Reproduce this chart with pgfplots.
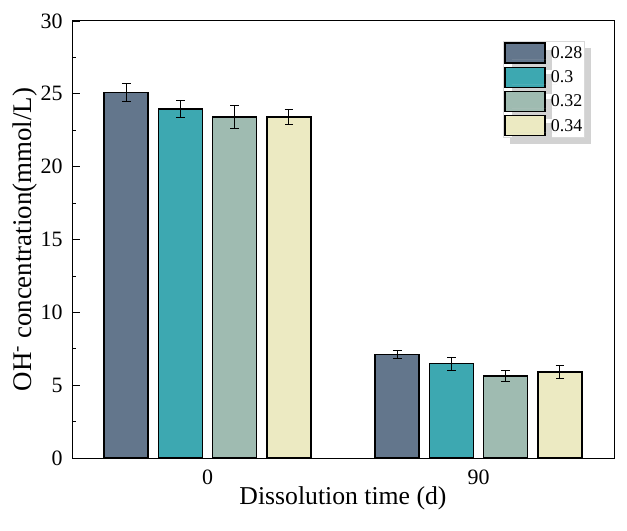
\documentclass[border=0pt]{standalone}
\usepackage{pgfplots}
\pgfplotsset{compat=1.18}
\usepackage{fontspec}
\setmainfont{Liberation Serif}
\usetikzlibrary{shadows}
\definecolor{cA}{HTML}{63768C}
\definecolor{cB}{HTML}{3DA8B1}
\definecolor{cC}{HTML}{9FBBB1}
\definecolor{cD}{HTML}{ECEAC2}
\begin{document}
\begin{tikzpicture}
\useasboundingbox (-72bp,-73bp) rectangle (555bp,458bp);
\begin{axis}[
  at={(0,0)}, anchor=south west,
  scale only axis, width=542bp, height=437bp,
  xmin=-0.5, xmax=1.5, ymin=0, ymax=30,
  xtick={0,1}, xticklabels={0,90},
  major x tick style={draw=none},
  ytick={0,5,...,30}, minor y tick num=1,
  xtick pos=bottom, ytick pos=left,
  tick align=inside,
  major tick length=8bp, minor tick length=4bp,
  tick style={black, line width=0.8pt},
  axis line style={black, line width=1pt},
  /pgf/number format/assume math mode=true,
  ticklabel style={font=\fontsize{22}{26}\selectfont},
  yticklabel style={xshift=-6bp},
  xlabel={Dissolution time (d)},
  ylabel={OH\textsuperscript{-} concentration(mmol/L)},
  xlabel style={font=\fontsize{25.8}{30}\selectfont, at={(axis description cs:0.5,-0.092)}, anchor=center},
  ylabel style={font=\fontsize{27}{32}\selectfont, at={(axis description cs:-0.087,0.5)}, anchor=center},
  ybar, bar width=0.162, bar shift=0pt,
  legend style={at={(0.7952,0.9542)}, anchor=north west,
    draw=gray!30, fill=white, line width=0.5pt,
    drop shadow={shadow xshift=7bp, shadow yshift=-7bp, fill=gray!35, draw=none, opacity=1},
    font=\fontsize{18}{21}\selectfont,
    inner sep=1bp, row sep=3bp,
    nodes={inner sep=1bp}},
  legend cell align=left,
  legend image code/.code={\draw[#1, line width=1.3pt] (0bp,-10bp) rectangle (40bp,10bp); \path[draw=none, fill=none] (0bp,0bp) -- (45bp,0bp);},
  error bars/error bar style={black, line width=0.8pt},
  error bars/error mark options={rotate=90, mark size=4.3bp, black, line width=0.8pt},
]
\addplot[fill=cA, draw=black, line width=1.7pt, error bars/.cd, y dir=both, y explicit]
  coordinates {(-0.3,25.1) +- (0,0.6) (0.7,7.1) +- (0,0.28)};
\addlegendentry{0.28}
\addplot[fill=cB, draw=black, line width=1.7pt, error bars/.cd, y dir=both, y explicit]
  coordinates {(-0.1,23.95) +- (0,0.6) (0.9,6.49) +- (0,0.45)};
\addlegendentry{0.3}
\addplot[fill=cC, draw=black, line width=1.7pt, error bars/.cd, y dir=both, y explicit]
  coordinates {(0.1,23.4) +- (0,0.8) (1.1,5.63) +- (0,0.35)};
\addlegendentry{0.32}
\addplot[fill=cD, draw=black, line width=1.7pt, error bars/.cd, y dir=both, y explicit]
  coordinates {(0.3,23.4) +- (0,0.5) (1.3,5.9) +- (0,0.45)};
\addlegendentry{0.34}
\end{axis}
\end{tikzpicture}
\end{document}
